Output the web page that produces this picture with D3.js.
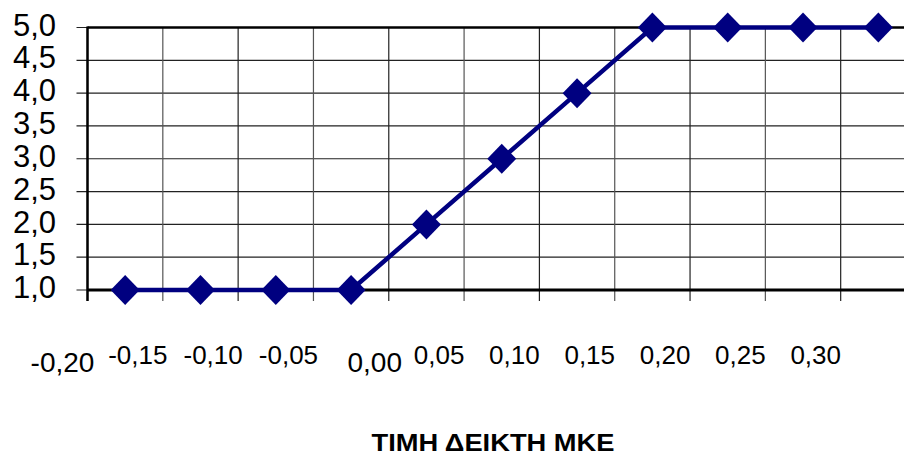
<!DOCTYPE html>
<html lang="el">
  <head>
    <meta charset="UTF-8" />
    <title>ΤΙΜΗ ΔΕΙΚΤΗ ΜΚΕ</title>
    <style>
      body {
        margin: 0;
        background: #ffffff;
      }
      svg text {
        font-family: "Liberation Sans", Arial, sans-serif;
        fill: #000;
      }
    </style>
  </head>
  <body>
    <div id="chart"></div>
    <script src="https://d3js.org/d3.v7.min.js"></script>
    <script>
      // data
      const categories = ["-0,20", "-0,15", "-0,10", "-0,05", "0,00", "0,05", "0,10", "0,15", "0,20", "0,25", "0,30"];
      const values = [1, 1, 1, 1, 2, 3, 4, 5, 5, 5, 5];
      const yTicks = [1.0, 1.5, 2.0, 2.5, 3.0, 3.5, 4.0, 4.5, 5.0];
      const axisTitle = "ΤΙΜΗ ΔΕΙΚΤΗ ΜΚΕ";

      const width = 904;
      const height = 458;
      const plot = { left: 87.5, top: 27.5, right: 916, bottom: 290 };

      const svg = d3
        .select("#chart")
        .append("svg")
        .attr("width", width)
        .attr("height", height);

      const x = d3
        .scaleBand()
        .domain(d3.range(categories.length))
        .range([plot.left, plot.right]);

      const y = d3.scaleLinear().domain([1, 5]).range([plot.bottom, plot.top]);

      // horizontal gridlines
      svg
        .append("g")
        .selectAll("line")
        .data(yTicks)
        .join("line")
        .attr("x1", plot.left - 11)
        .attr("x2", plot.right)
        .attr("y1", (d) => y(d))
        .attr("y2", (d) => y(d))
        .attr("stroke", "#222")
        .attr("stroke-width", 1.2);

      // vertical gridlines (category boundaries)
      svg
        .append("g")
        .selectAll("line")
        .data(d3.range(categories.length))
        .join("line")
        .attr("x1", (d) => x(d))
        .attr("x2", (d) => x(d))
        .attr("y1", plot.top)
        .attr("y2", plot.bottom + 11)
        .attr("stroke", (d, i) => (i % 2 ? "#555" : "#222"))
        .attr("stroke-width", 1.2);

      // axis frame
      svg
        .append("line")
        .attr("x1", plot.left)
        .attr("x2", plot.right)
        .attr("y1", plot.top)
        .attr("y2", plot.top)
        .attr("stroke", "#000")
        .attr("stroke-width", 2.5);
      svg
        .append("line")
        .attr("x1", plot.left)
        .attr("x2", plot.right)
        .attr("y1", plot.bottom)
        .attr("y2", plot.bottom)
        .attr("stroke", "#000")
        .attr("stroke-width", 3);
      svg
        .append("line")
        .attr("x1", plot.left)
        .attr("x2", plot.left)
        .attr("y1", plot.top - 1)
        .attr("y2", plot.bottom + 11)
        .attr("stroke", "#000")
        .attr("stroke-width", 2.5);

      // y labels
      svg
        .append("g")
        .selectAll("text")
        .data(yTicks)
        .join("text")
        .attr("x", 56)
        .attr("y", (d) => y(d) - 3)
        .attr("dy", "0.36em")
        .attr("text-anchor", "end")
        .attr("font-size", 31)
        .text((d) => d.toFixed(1).replace(".", ","));

      // x labels (offset to the left of the category, as in the original)
      const big = new Set(["-0,20", "0,00"]);
      svg
        .append("g")
        .selectAll("text")
        .data(categories)
        .join("text")
        .attr("x", (d, i) => x(i) - 25 + (d === "0,00" ? 11 : 0))
        .attr("y", (d) => (big.has(d) ? 372 : 364))
        .attr("text-anchor", "middle")
        .attr("font-size", (d) => (big.has(d) ? 28 : 26))
        .text((d) => d);

      // line
      const line = d3
        .line()
        .x((d, i) => x(i) + x.bandwidth() / 2)
        .y((d) => y(d));

      svg
        .append("path")
        .datum(values)
        .attr("d", line)
        .attr("fill", "none")
        .attr("stroke", "#000080")
        .attr("stroke-width", 4.5);

      // diamond markers
      svg
        .append("g")
        .selectAll("path")
        .data(values)
        .join("path")
        .attr(
          "transform",
          (d, i) => "translate(" + (x(i) + x.bandwidth() / 2) + "," + y(d) + ")"
        )
        .attr("d", "M0,-15L14.5,0L0,15L-14.5,0Z")
        .attr("fill", "#000080");

      // axis title
      svg
        .append("text")
        .attr("x", 493)
        .attr("y", 451)
        .attr("text-anchor", "middle")
        .attr("font-size", 24)
        .attr("font-weight", "bold")
        .attr("textLength", 243)
        .attr("lengthAdjust", "spacingAndGlyphs")
        .text(axisTitle);
    </script>
  </body>
</html>
